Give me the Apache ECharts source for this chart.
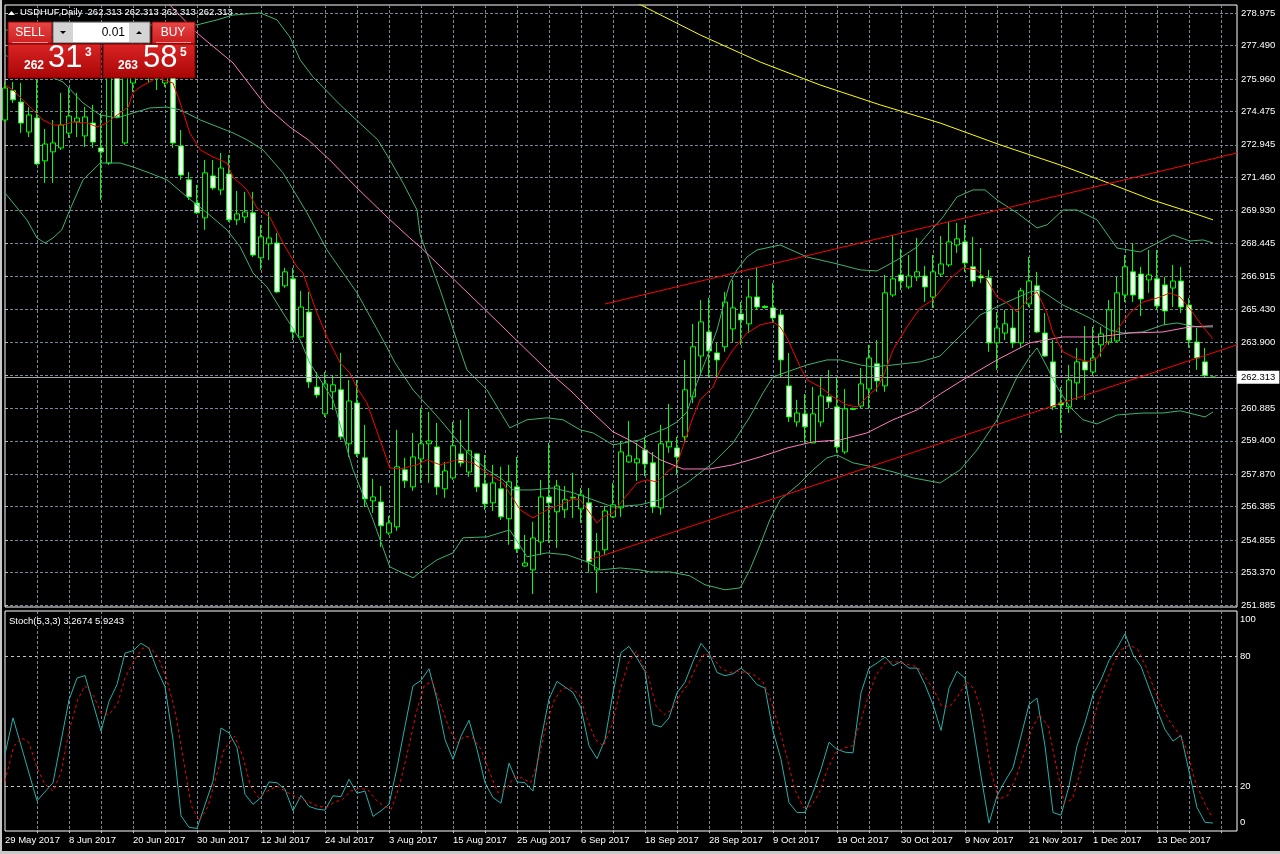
<!DOCTYPE html>
<html><head><meta charset="utf-8">
<script src="https://cdn.jsdelivr.net/npm/echarts@6/dist/echarts.min.js"></script>
<style>html,body{margin:0;padding:0;background:#000;}#c{width:1280px;height:854px;}</style>
</head><body><div id="c"></div>
<script>
// ---------- DATA ----------
const dateTicks = [[0,'29 May 2017'],[8,'8 Jun 2017'],[16,'20 Jun 2017'],[24,'30 Jun 2017'],[32,'12 Jul 2017'],[40,'24 Jul 2017'],[48,'3 Aug 2017'],[56,'15 Aug 2017'],[64,'25 Aug 2017'],[72,'6 Sep 2017'],[80,'18 Sep 2017'],[88,'28 Sep 2017'],[96,'9 Oct 2017'],[104,'19 Oct 2017'],[112,'30 Oct 2017'],[120,'9 Nov 2017'],[128,'21 Nov 2017'],[136,'1 Dec 2017'],[144,'13 Dec 2017']];
const priceGrid = [278.975,277.490,275.960,274.475,272.945,271.460,269.930,268.445,266.915,265.430,263.900,262.415,260.885,259.400,257.870,256.385,254.855,253.370,251.885];
const priceLabels = [278.975,277.490,275.960,274.475,272.945,271.460,269.930,268.445,266.915,265.430,263.900,260.885,259.400,257.870,256.385,254.855,253.370,251.885];
const bidPrice = 262.313;
const stochLevels = [20,80];

const opens = [274.08,275.42,274.90,273.53,274.17,272.21,272.62,272.80,273.48,273.99,
273.35,273.94,272.80,272.11,276.60,273.03,275.77,276.60,276.83,276.28,
275.77,276.28,272.89,271.34,270.28,269.60,271.52,270.88,271.61,269.51,
269.64,269.83,267.77,268.41,268.45,266.49,266.81,264.15,265.29,261.86,
260.63,261.64,261.73,259.26,261.13,258.62,256.65,256.60,255.18,255.46,
258.07,257.29,258.57,259.26,259.12,257.20,257.70,258.80,257.97,258.80,
257.43,256.56,257.20,255.83,257.29,253.67,253.49,254.77,256.83,256.15,
256.24,256.78,256.28,256.56,253.49,254.41,255.92,256.33,258.43,258.39,
258.98,258.39,256.33,259.12,259.07,259.58,261.41,263.28,264.38,263.42,
263.70,264.52,265.20,264.75,265.98,265.55,265.48,265.16,261.91,260.26,
260.63,259.30,260.26,261.41,260.95,258.89,260.88,260.99,261.77,262.92,
261.91,266.07,266.99,266.44,266.90,266.94,265.98,267.03,267.45,268.36,
268.50,267.36,266.94,266.85,263.88,264.33,264.56,263.88,265.66,266.49,
264.33,263.01,261.13,260.95,262.05,263.01,262.55,263.79,263.92,263.97,
266.07,267.13,267.03,266.76,266.81,266.53,266.39,266.71,265.61,263.92,
263.01,262.313];
const closes = [275.54,275.00,273.94,274.31,272.07,272.98,273.03,273.85,274.26,274.17,
274.22,273.07,272.62,276.14,274.22,276.83,276.60,276.83,276.28,276.00,
276.28,273.03,271.56,270.56,269.83,271.66,270.97,271.88,269.51,269.78,
269.87,267.90,268.73,268.68,266.21,267.13,264.38,265.52,262.09,261.50,
262.00,261.96,259.58,261.22,258.80,256.74,256.83,255.51,255.64,258.21,
257.57,258.66,259.26,259.39,257.29,258.02,259.17,258.39,258.94,257.29,
256.51,257.47,255.92,257.52,254.45,253.81,254.95,256.83,256.56,257.33,
256.70,256.81,256.92,253.86,254.32,256.19,256.47,258.89,258.71,258.57,
258.34,256.37,259.26,259.35,258.66,261.73,263.70,264.84,263.51,263.10,
265.75,265.48,264.93,265.98,265.52,265.50,265.02,263.10,260.49,260.67,
260.04,260.63,261.45,261.18,259.12,260.86,260.84,262.00,263.19,262.14,
266.17,266.81,266.71,266.94,267.13,266.44,267.13,267.49,268.50,268.64,
267.54,266.71,266.85,263.88,264.56,264.75,263.88,266.26,266.71,264.38,
263.28,260.95,261.04,262.18,263.01,262.64,263.19,264.29,265.39,266.17,
267.36,266.07,265.89,266.99,265.57,265.34,266.71,265.52,264.01,263.19,
262.38,262.313];
const lows = [273.99,274.86,273.49,273.30,272.02,271.20,271.20,272.71,273.26,273.30,
272.85,272.80,270.42,272.02,274.17,272.94,275.36,276.14,275.77,275.45,
275.59,272.80,271.34,270.42,269.78,269.05,270.88,270.65,269.41,269.28,
269.37,267.81,267.22,267.67,266.17,266.40,264.01,264.15,261.82,261.36,
260.49,260.81,259.44,258.66,258.66,256.37,256.10,254.54,255.09,255.28,
257.24,257.11,257.47,257.47,256.92,256.79,257.61,258.21,257.75,257.06,
256.24,256.19,255.78,254.64,254.27,253.63,252.39,254.18,254.73,254.50,
255.87,255.87,255.64,253.36,252.44,254.18,255.87,255.92,258.39,257.57,
257.79,256.10,256.01,258.85,257.88,259.30,261.13,262.41,262.27,262.27,
263.47,263.92,263.79,264.33,265.39,265.45,264.79,262.32,260.26,260.04,
259.30,259.30,260.04,260.90,258.85,258.80,260.80,260.90,260.86,261.64,
261.64,265.98,266.30,266.35,266.71,265.75,265.48,266.90,267.36,268.00,
267.13,266.44,266.62,263.47,262.64,264.01,263.65,263.65,265.52,264.33,
263.24,260.81,259.76,260.67,261.27,261.27,262.41,263.24,263.79,263.92,
265.75,265.75,265.11,266.17,265.39,264.70,265.52,265.25,263.65,262.64,
262.31,262.313];
const highs = [275.82,275.82,275.77,274.67,275.91,273.67,274.08,275.32,275.54,275.32,
274.67,274.77,274.40,276.83,277.05,277.50,277.97,278.43,277.74,277.28,
277.05,276.83,273.62,271.70,271.11,272.25,272.25,272.57,272.48,270.83,
270.79,270.79,269.28,269.87,268.91,267.31,267.31,266.26,266.21,262.55,
262.55,262.41,263.42,262.18,262.18,260.13,257.66,257.33,255.96,259.90,
258.62,259.76,260.90,260.72,260.22,258.43,260.26,260.36,260.86,258.84,
258.75,258.30,258.21,258.30,258.66,255.09,255.69,257.61,259.30,257.61,
257.33,257.93,257.24,257.24,255.18,256.42,257.47,259.39,260.31,259.30,
259.58,258.89,260.13,261.09,259.58,263.10,264.75,265.84,265.94,263.88,
266.21,266.76,265.75,266.81,267.31,265.60,266.62,265.39,263.42,261.27,
261.54,261.86,262.32,262.64,262.27,261.77,260.92,262.73,263.79,264.01,
266.99,268.82,268.18,267.90,268.68,267.40,267.90,268.77,269.41,269.37,
269.28,268.73,268.22,267.22,265.29,265.39,265.39,266.40,267.81,267.13,
265.25,264.01,261.86,262.87,263.65,264.65,264.61,264.61,265.84,266.90,
267.90,268.45,267.36,268.13,268.13,266.90,267.45,267.36,265.93,264.56,
263.65,262.313];

// indicator lines: [bar index, value] read at the visible bends
const bbUpper = [[0,278.2],[6.9,277.97],[11.9,278.2],[18.1,278.43],[24,278.43],[26.5,278.66],[28.5,278.88],[31.9,278.98],[34,278.66],[35.6,277.88],[36.9,276.83],[38.5,276.05],[41.9,274.77],[46.6,273.17],[48.1,272.25],[49.75,271.2],[51.5,269.96],[51.9,268.82],[54.4,266.3],[56.25,264.24],[57.75,262.64],[60.25,261.73],[61.9,260.72],[63.1,259.99],[65.25,260.36],[67.75,260.45],[69.75,260.36],[71.9,259.9],[73.5,259.76],[76,259.21],[79.4,259.44],[80.6,259.67],[82.75,259.99],[84,260.26],[85.25,260.72],[86.5,262.05],[87.75,263.24],[89,264.47],[89.75,265.52],[90.6,266.62],[91.5,267.22],[92.75,267.81],[94,268.13],[96.9,268.36],[100.25,267.81],[103.5,267.54],[106.9,267.22],[109,267.17],[111.5,267.67],[114,268.27],[115.6,268.96],[117.25,269.64],[119,270.56],[121,270.88],[122.5,270.88],[124,270.42],[126.5,269.83],[129,269.14],[130.25,269.28],[132.25,269.96],[134,269.96],[136.5,269.51],[139,268.22],[141.9,268.04],[143.1,268.27],[146,268.82],[148.1,268.54],[149.75,268.59],[151,268.45]];
const bbMiddle = [[0,277.05],[3.1,276.46],[7.25,275.82],[9.75,274.86],[11.9,274.31],[14,274.17],[16,274.4],[18.1,274.63],[20.25,274.67],[21.9,274.54],[24.4,274.08],[28.5,273.49],[30.25,273.17],[32.25,272.71],[34.75,271.66],[37.75,269.83],[40.25,268.13],[44,266.17],[47.25,264.01],[48.75,262.97],[51,261.73],[54.4,260.36],[57.75,258.89],[60.25,258.07],[62.25,257.61],[63.5,257.15],[66,257.15],[68.5,257.24],[71,257.02],[73.5,256.7],[76,256.37],[79.4,256.47],[81.9,256.7],[85.25,257.47],[88.5,258.39],[91,259.3],[93.1,260.49],[94.75,261.59],[96,262.32],[97.75,262.55],[100.25,262.87],[102.75,263.1],[104.4,263.1],[106.9,262.87],[108.5,262.78],[111,262.87],[114.4,263.01],[116.9,263.28],[119.75,264.33],[121.9,265.16],[125.25,265.75],[128.1,266.21],[129.4,266.3],[132.25,265.61],[135.6,265.02],[138.1,264.47],[139.75,264.33],[142.25,264.38],[144.75,264.7],[146.5,264.79],[149,264.61],[151,264.61]];
const bbLower = [[0,270.74],[2.75,269.5],[4,268.68],[5,268.45],[6,268.68],[7.1,269.05],[8.1,269.96],[9.75,271.34],[11.9,272.11],[14.4,272.11],[16,271.93],[18.1,271.65],[20.25,271.34],[22.75,270.56],[25.25,269.83],[27.75,269.05],[29.4,268.27],[31,267.08],[32.75,266.44],[34.75,265.25],[36.9,264.01],[38.1,262.96],[41,261.27],[43.5,258.07],[46,255.78],[48.1,253.63],[51,253.13],[52.75,253.63],[54,253.95],[56,254.27],[57.25,254.96],[60.25,255.0],[62.25,255.23],[63.1,255.32],[65.25,254.09],[67.75,254.27],[70.25,254.18],[72.75,253.86],[74.4,253.49],[76.9,253.58],[79.4,253.49],[80.6,253.4],[83.1,253.4],[85.6,253.22],[87.5,252.81],[90,252.58],[91.9,252.67],[93.1,253.49],[94.4,254.64],[95.6,255.78],[96.9,256.7],[99.4,257.47],[101,258.07],[102.75,258.62],[104,258.75],[106,258.39],[108.5,258.2],[111,257.98],[113.5,257.7],[116.9,257.47],[119.4,258.07],[121.5,258.98],[124,260.36],[126.5,262.32],[128.1,263.24],[129,263.65],[130.25,262.78],[131.5,261.86],[133.1,260.95],[134.75,260.36],[136.5,260.17],[139,260.58],[142.25,260.67],[144.75,260.67],[146.9,260.77],[149,260.58],[150,260.49],[151,260.72]];
const maFast = [[0,275.68],[1,275.45],[2.25,274.99],[3.5,274.54],[4.75,274.08],[6,273.85],[7.25,273.85],[8.5,273.99],[10.25,273.94],[11.5,273.76],[12.75,273.94],[13.5,274.17],[14.4,274.4],[15.4,274.67],[16,275.32],[16.9,275.59],[18.5,275.91],[19.1,276.18],[19.75,275.91],[21,275.77],[21.9,274.86],[23.1,273.49],[24.4,272.71],[26,272.39],[27.75,272.11],[28.5,271.47],[30.25,270.88],[31.5,270.05],[33.1,269.64],[34.75,268.45],[36.5,267.35],[37.25,267.08],[38.1,266.17],[39,265.25],[40.25,264.15],[41.9,262.96],[43.1,262.51],[44,261.82],[45.25,261.13],[48.1,258.16],[49.4,258.11],[51.5,258.3],[52.75,258.53],[54.4,258.3],[56.5,258.53],[58.5,258.39],[60.25,257.93],[62.25,257.47],[64.4,256.24],[66,255.87],[67.75,256.24],[69.4,256.47],[71,256.74],[71.9,256.7],[73.1,256.1],[74,255.64],[74.75,255.92],[76,256.1],[77.25,256.7],[79,257.47],[80.25,257.61],[81.5,257.52],[82.75,257.98],[84,258.3],[84.4,258.75],[86,260.49],[86.9,261.27],[88.5,261.86],[89.4,262.64],[91,263.56],[92.75,264.33],[94.4,264.7],[96,264.84],[96.9,264.61],[97.75,264.11],[99.4,262.78],[100.25,262.19],[101.9,261.86],[103.5,261.41],[105.25,261.04],[106.5,260.95],[107.75,261.41],[109,261.82],[109.75,262.32],[111,263.56],[112.75,264.61],[114.4,265.48],[116,265.84],[118.1,266.81],[119.75,267.31],[121.5,267.22],[122.75,266.76],[124,265.98],[125.25,265.71],[126.5,265.29],[128.1,265.98],[129,266.21],[130.25,265.25],[131,264.33],[132.25,263.47],[134,263.15],[135.6,263.01],[136.5,263.19],[137.75,263.88],[139,264.47],[140.6,265.25],[142.25,265.75],[144,265.93],[145.6,266.16],[146.9,265.98],[148.5,265.25],[149.75,264.61],[151,264.06]];
const maSlow = [[18.1,280.49],[20.6,279.34],[24,278.06],[28.5,276.69],[32.75,274.67],[35.6,273.76],[37.9,273.17],[40.6,272.25],[44,270.97],[47.75,269.64],[50.6,268.68],[51.9,268.27],[59.4,265.62],[67.75,262.64],[71,261.59],[73.5,260.67],[76,259.81],[78.5,259.35],[81.9,258.53],[84.75,258.11],[88.1,258.11],[91,258.3],[94.4,258.66],[97.75,259.07],[101,259.35],[104.4,259.44],[107.75,259.76],[111,260.36],[114,260.81],[116.9,261.54],[119.75,262.19],[124,263.1],[128.1,263.88],[132.25,264.15],[136.5,264.15],[140.6,264.33],[144.75,264.38],[148.1,264.61],[151,264.66]];
const maLong = [[76.9,279.8],[79.5,279.34],[86.9,277.97],[94.4,276.73],[101.9,275.68],[109.4,274.77],[116.9,273.94],[124.4,272.94],[131.9,272.02],[136.9,271.34],[143.4,270.42],[148.1,269.87],[151,269.51]];
const trendUpper = [[75,265.66],[154,272.57]];
const trendLower = [[73.1,253.95],[154,263.79]];

const stochMain = [[0,34.9],[1,51.7],[4,13.5],[6,21.8],[8,60],[9,70],[10,71.2],[12,45.6],[13,59.3],[14,67],[15,81.5],[16,82.6],[17,86],[18,83.8],[19,74],[20,66],[21,41.7],[22,6.6],[23,1.3],[24,0.8],[26,22.6],[27,47],[28,44.8],[29,37.9],[30,16.5],[31,11.9],[32,15],[33,22.2],[34,21.8],[35,18.8],[36,8.9],[37,16],[38,10.9],[39,9.7],[40,9.2],[41,15.8],[42,15.4],[43,23.4],[44,17],[45,18],[46,6.3],[47,8.9],[48,11.9],[49,28.7],[50,47.9],[51,66.5],[52,68.9],[53,74.3],[54,60.1],[55,41.7],[56,32.6],[57,43.3],[58,50.6],[59,37.2],[60,21.8],[61,15],[62,12.4],[63,30.8],[64,22.2],[65,21.8],[66,18],[67,41.7],[68,60.4],[69,68.5],[70,65.9],[71,63.4],[72,56.3],[73,38.8],[74,32.9],[75,41.7],[76,63.2],[77,81.8],[78,84.6],[79,79.2],[80,73.1],[81,48.6],[82,47.5],[83,51.7],[84,63.2],[85,68.1],[86,77.6],[87,86],[88,81.5],[89,72.6],[90,71.1],[91,72],[92,74.6],[93,71.5],[94,67],[95,65.4],[96,45.6],[97,32.6],[98,12.7],[99,8.1],[100,8.1],[101,17.3],[102,28],[103,40.5],[104,37.2],[105,35.9],[106,35.6],[107,63.2],[108,74.6],[109,76.9],[110,79.7],[111,75.7],[112,77.6],[113,74.6],[114,74.6],[115,67],[116,57.8],[117,45.9],[118,65.4],[119,73.1],[120,70],[121,47.8],[122,24.9],[123,3.2],[124,15.8],[125,22.6],[126,28.7],[127,43.3],[128,57.8],[129,60.8],[130,38.7],[131,8.1],[132,6.9],[133,20.3],[134,38.7],[135,49.4],[136,62.4],[137,69.2],[138,78.1],[139,83.8],[140,90.4],[141,80.7],[142,75.4],[143,65.4],[144,55.5],[145,46.3],[146,41],[147,43.6],[148,27.2],[149,10.4],[150,3.6],[151,3.27]];
const stochSignal = [[0,22.6],[1.1,38.7],[2.1,42.5],[3,40.2],[4,28.7],[5,21.1],[6,18],[7,26.5],[8,45.6],[9.1,60.1],[10,66.5],[11.1,61.6],[12,54],[13,53.2],[14.1,58.5],[15,70],[16.2,78.4],[17.2,83.8],[18.2,83.8],[19.2,79.2],[20.25,69.2],[21.3,54],[22.3,32.6],[23.3,11.2],[24.3,4.3],[25.4,11.2],[26.4,24.9],[27.4,37.2],[28.7,43.3],[29.7,34.1],[30.7,20.3],[31.7,15],[32.8,18],[34,20.3],[35,18],[36.1,15.8],[37.1,14.2],[38.1,12.9],[39.1,10.9],[40.2,10.5],[41.2,12.9],[42.2,14.2],[43.2,18],[44.2,19.1],[45.3,18.8],[46.3,14.2],[47.3,11.2],[48.3,9.7],[49.3,20.3],[50.4,37.2],[51.4,54],[52.4,66.5],[53.4,68.5],[54.4,58.5],[55.5,47],[56.5,40.2],[57.5,43.3],[58.5,42.5],[59.5,37.2],[60.6,26.5],[61.6,17.3],[62.6,18.8],[63.6,24.1],[64.6,24.1],[65.7,21.8],[66.7,32.6],[67.7,49.4],[68.7,60.1],[69.7,65.4],[70.8,65.4],[71.8,62.4],[72.8,50.9],[73.8,41.7],[74.8,38.7],[75.9,48.6],[76.9,64.7],[77.9,76.9],[78.9,82.3],[80.4,70.8],[81.4,57],[82.4,53.2],[83.4,55.5],[84.4,62.4],[85.5,67.7],[86.5,76.1],[87.5,81.5],[88.5,79.2],[89.5,74.6],[90.6,72.6],[91.6,73.1],[92.6,72.6],[93.6,71.5],[94.7,68.5],[95.7,60.1],[96.7,47.9],[97.7,34.1],[98.7,18.8],[99.8,10.4],[100.8,11.2],[101.8,17.3],[102.8,28],[103.8,35.6],[104.9,37.9],[105.9,38.7],[106.9,49.4],[107.9,61.6],[108.9,71.5],[110,76.9],[111,77.6],[112,77.3],[113,76.1],[114,75.3],[115.1,70],[116.1,64.7],[117.1,57],[118.1,57],[119.1,61.6],[120.2,68.5],[121.2,64.7],[122.2,52.5],[123.2,28],[124.2,14.2],[125.3,15.8],[126.3,23.4],[127.3,34.1],[128.3,46.3],[129.3,53.2],[130.4,47.9],[131.4,29.5],[132.4,12.7],[133.4,14.2],[134.4,26.5],[135.5,43.3],[136.5,57],[137.5,67],[138.5,76.1],[139.5,83],[140.6,85.3],[141.6,83],[142.6,75.4],[143.6,65.4],[144.6,57],[145.7,49.4],[146.7,44.8],[147.7,37.2],[148.7,23.4],[149.7,14.2],[150.8,6.6],[151,5.92]];

// ---------- CHART ----------
const NCAT = 155;
const cats = Array.from({length: NCAT}, (_, i) => String(i));
const dateMap = {}; dateTicks.forEach(d => dateMap[d[0]] = d[1]);
const candles = opens.map((o, i) => [o, closes[i], lows[i], highs[i]]);
const FONT = 'Liberation Sans';
const GRID = '#778899';

const chart = echarts.init(document.getElementById('c'), null, {renderer: 'canvas'});

function lineSeries(name, data, color, z, extra) {
  return Object.assign({
    name, type: 'line', xAxisIndex: 1, yAxisIndex: 0, data, showSymbol: false, symbol: 'none',
    lineStyle: {color, width: 1}, z, silent: true, animation: false, clip: true
  }, extra || {});
}

const redGrad = (a, b) => new echarts.graphic.LinearGradient(0, 0, 0, 1, [{offset: 0, color: a}, {offset: 1, color: b}]);

chart.setOption({
  backgroundColor: '#000',
  animation: false,
  grid: [
    {left: 5, top: 5, width: 1232, height: 602, show: true, borderColor: '#fff', borderWidth: 1, backgroundColor: '#000'},
    {left: 5, top: 611, width: 1232, height: 220, show: true, borderColor: '#fff', borderWidth: 1, backgroundColor: '#000'}
  ],
  xAxis: [
    {type: 'category', gridIndex: 0, data: cats, boundaryGap: false,
      axisLine: {show: false}, axisTick: {show: false}, axisLabel: {show: false},
      splitLine: {show: true, interval: (i) => i % 4 === 0 && i > 0, lineStyle: {color: GRID, type: [3, 2], width: 1}}},
    {type: 'value', gridIndex: 0, min: 0, max: NCAT - 1, show: false},
    {type: 'category', gridIndex: 1, data: cats, boundaryGap: false,
      axisLine: {show: false},
      axisTick: {show: true, interval: (i) => i % 4 === 0 && i > 0, length: 3, lineStyle: {color: '#c0c0c0'}},
      axisLabel: {show: true, interval: (i) => dateMap[i] !== undefined, formatter: (v) => dateMap[+v] || '',
        color: '#fff', fontFamily: FONT, fontSize: 9.5, align: 'left', margin: 4},
      splitLine: {show: true, interval: (i) => i % 4 === 0 && i > 0, lineStyle: {color: GRID, type: [3, 2], width: 1}}},
    {type: 'value', gridIndex: 1, min: 0, max: NCAT - 1, show: false}
  ],
  yAxis: [
    {type: 'value', gridIndex: 0, position: 'right', min: 251.793, max: 279.341,
      axisLine: {show: false},
      axisTick: {show: true, customValues: priceGrid, length: 3, lineStyle: {color: '#c0c0c0'}},
      axisLabel: {show: true, customValues: priceLabels, formatter: (v) => v.toFixed(3), color: '#fff', fontFamily: FONT, fontSize: 9.5, margin: 4},
      splitLine: {show: true, lineStyle: {color: GRID, type: [3, 2], width: 1}}},
    {type: 'value', gridIndex: 1, position: 'right', min: -0.4, max: 100.9,
      axisLine: {show: false},
      axisTick: {show: true, customValues: stochLevels, length: 3, lineStyle: {color: '#c0c0c0'}},
      axisLabel: {show: true, customValues: [3.5, 20, 80, 97.2], formatter: (v) => v < 10 ? '0' : (v > 90 ? '100' : String(v)), color: '#fff', fontFamily: FONT, fontSize: 9.5, margin: 3},
      splitLine: {show: true, lineStyle: {color: '#c8c8c8', type: [3, 3], width: 1}}}
  ],
  series: [
    {type: 'candlestick', xAxisIndex: 0, yAxisIndex: 0, data: candles, barWidth: 5, z: 3, silent: true, clip: true,
      itemStyle: {color: '#000', color0: '#fff', borderColor: '#00ff00', borderColor0: '#00ff00', borderColorDoji: '#00ff00', borderWidth: 1},
      markLine: {silent: true, symbol: ['none', 'none'], animation: false,
        lineStyle: {color: '#a8a8a8', type: 'solid', width: 1},
        label: {show: true, position: 'end', distance: 0, formatter: bidPrice.toFixed(3), color: '#000', backgroundColor: '#fff',
          padding: [2, 4, 1, 4], fontFamily: FONT, fontSize: 9.5},
        data: [{yAxis: bidPrice}]}},
    lineSeries('bbUpper', bbUpper, '#3cb371', 4),
    lineSeries('bbMiddle', bbMiddle, '#3cb371', 4),
    lineSeries('bbLower', bbLower, '#3cb371', 4),
    lineSeries('maSlow', maSlow, '#ff7ac0', 5),
    lineSeries('maLong', maLong, '#ffff00', 5),
    lineSeries('maFast', maFast, '#ff0000', 6),
    lineSeries('trendUpper', trendUpper, '#ff0000', 6),
    lineSeries('trendLower', trendLower, '#ff0000', 6),
    lineSeries('stochMain', stochMain, '#20b2aa', 5, {xAxisIndex: 3, yAxisIndex: 1}),
    lineSeries('stochSignal', stochSignal, '#ff0000', 6, {xAxisIndex: 3, yAxisIndex: 1, lineStyle: {color: '#ff0000', width: 1, type: [3, 3]}})
  ],
  graphic: [
    // window frame
    {type: 'rect', shape: {x: 0, y: 0, width: 2, height: 854}, style: {fill: '#c8c8c8'}, z: 200, silent: true},
    {type: 'rect', shape: {x: 0, y: 851, width: 1280, height: 3}, style: {fill: '#c8c8c8'}, z: 200, silent: true},
    // header
    {type: 'polygon', shape: {points: [[8, 15], [15, 15], [11.5, 11]]}, style: {fill: '#fff'}, z: 200, silent: true},
    {type: 'text', x: 20, y: 12, style: {text: 'USDHUF,Daily  262.313 262.313 262.313 262.313', fill: '#fff', font: '9.5px "Liberation Sans"', align: 'left', verticalAlign: 'middle'}, z: 200, silent: true},
    {type: 'text', x: 9, y: 621, style: {text: 'Stoch(5,3,3) 3.2674 5.9243', fill: '#fff', font: '9.5px "Liberation Sans"', align: 'left', verticalAlign: 'middle'}, z: 200, silent: true},
    // one-click trading panel
    {type: 'rect', shape: {x: 8, y: 22, width: 44, height: 22}, style: {fill: redGrad('#e84848', '#cc1c1c'), stroke: '#8a0000', lineWidth: 1}, z: 200, silent: true},
    {type: 'rect', shape: {x: 12, y: 42, width: 36, height: 1}, style: {fill: '#f09090'}, z: 201, silent: true},
    {type: 'text', x: 30, y: 33, style: {text: 'SELL', fill: '#fff', font: '12px "Liberation Sans"', align: 'center', verticalAlign: 'middle'}, z: 201, silent: true},
    {type: 'rect', shape: {x: 152, y: 22, width: 43, height: 22}, style: {fill: redGrad('#e84848', '#cc1c1c'), stroke: '#8a0000', lineWidth: 1}, z: 200, silent: true},
    {type: 'rect', shape: {x: 156, y: 42, width: 35, height: 1}, style: {fill: '#f09090'}, z: 201, silent: true},
    {type: 'text', x: 173, y: 33, style: {text: 'BUY', fill: '#fff', font: '12px "Liberation Sans"', align: 'center', verticalAlign: 'middle'}, z: 201, silent: true},
    {type: 'rect', shape: {x: 53, y: 22, width: 97, height: 21}, style: {fill: '#d4d4d4', stroke: '#6a6a6a', lineWidth: 1}, z: 200, silent: true},
    {type: 'rect', shape: {x: 73, y: 23, width: 56, height: 19}, style: {fill: '#fff'}, z: 201, silent: true},
    {type: 'polygon', shape: {points: [[60, 31], [66, 31], [63, 34]]}, style: {fill: '#000'}, z: 201, silent: true},
    {type: 'polygon', shape: {points: [[136, 34], [142, 34], [139, 31]]}, style: {fill: '#000'}, z: 201, silent: true},
    {type: 'text', x: 125, y: 33, style: {text: '0.01', fill: '#000', font: '12px "Liberation Sans"', align: 'right', verticalAlign: 'middle'}, z: 202, silent: true},
    {type: 'rect', shape: {x: 8, y: 44, width: 93, height: 34}, style: {fill: redGrad('#dc2424', '#a80606'), stroke: '#7a0000', lineWidth: 1}, z: 200, silent: true},
    {type: 'rect', shape: {x: 103, y: 44, width: 92, height: 34}, style: {fill: redGrad('#dc2424', '#a80606'), stroke: '#7a0000', lineWidth: 1}, z: 200, silent: true},
    {type: 'text', x: 24, y: 72, style: {text: '262', fill: '#fff', font: 'bold 12px "Liberation Sans"', align: 'left', verticalAlign: 'bottom'}, z: 201, silent: true},
    {type: 'text', x: 48, y: 74, style: {text: '31', fill: '#fff', font: '31px "Liberation Sans"', align: 'left', verticalAlign: 'bottom'}, z: 201, silent: true},
    {type: 'text', x: 85, y: 47, style: {text: '3', fill: '#fff', font: 'bold 12px "Liberation Sans"', align: 'left', verticalAlign: 'top'}, z: 201, silent: true},
    {type: 'text', x: 118, y: 72, style: {text: '263', fill: '#fff', font: 'bold 12px "Liberation Sans"', align: 'left', verticalAlign: 'bottom'}, z: 201, silent: true},
    {type: 'text', x: 143, y: 74, style: {text: '58', fill: '#fff', font: '31px "Liberation Sans"', align: 'left', verticalAlign: 'bottom'}, z: 201, silent: true},
    {type: 'text', x: 180, y: 47, style: {text: '5', fill: '#fff', font: 'bold 12px "Liberation Sans"', align: 'left', verticalAlign: 'top'}, z: 201, silent: true}
  ]
});
</script>
</body></html>
